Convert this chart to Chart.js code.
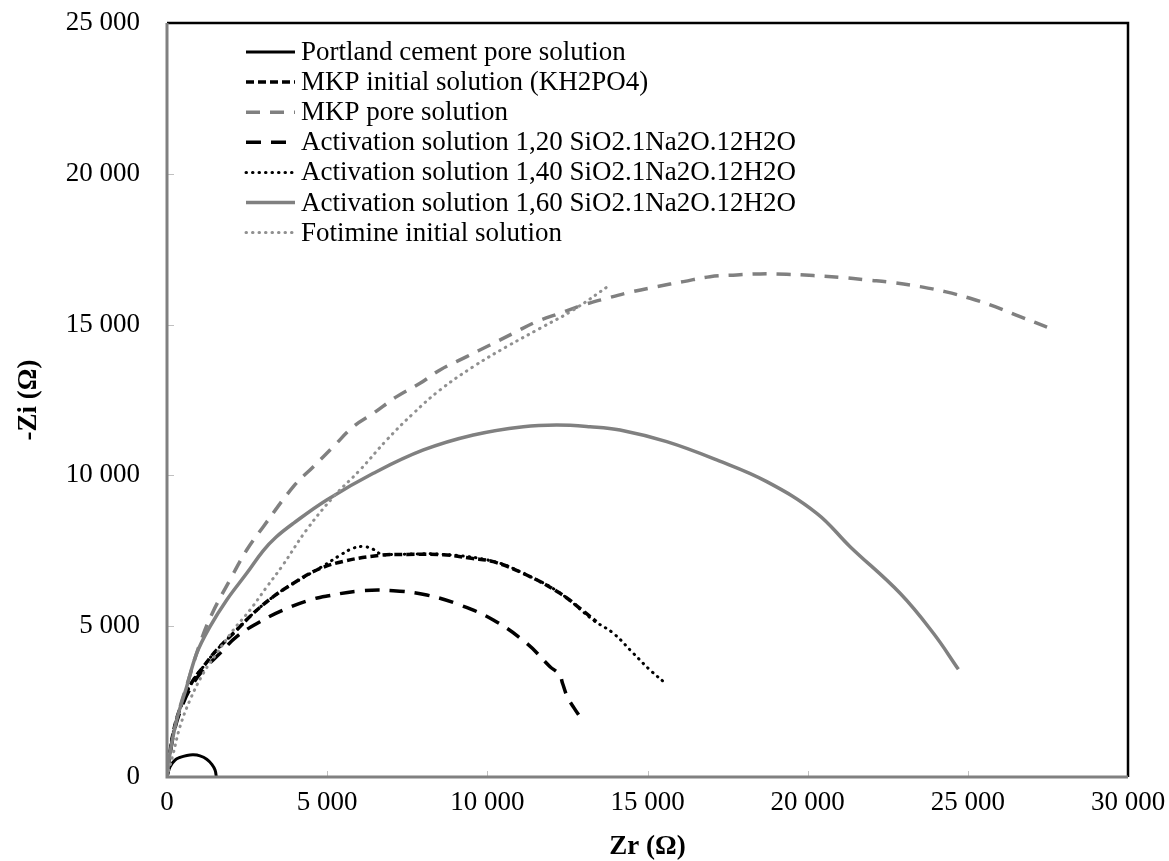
<!DOCTYPE html>
<html lang="en">
<head>
    <meta charset="UTF-8">
    <title>Impedance spectra</title>
    <script src="https://cdn.jsdelivr.net/npm/chart.js"></script>
    <style>
        html, body { margin: 0; padding: 0; background: #fff; }
        #wrap { width: 1169px; height: 861px; }
    </style>
</head>
<body>
<div id="wrap"><canvas id="nyquist" width="1169" height="861"></canvas></div>
<script>
// Series names, in legend order
const seriesNames = [
    'Portland cement pore solution',
    'MKP initial solution (KH2PO4)',
    'MKP pore solution',
    'Activation solution 1,20 SiO2.1Na2O.12H2O',
    'Activation solution 1,40 SiO2.1Na2O.12H2O',
    'Activation solution 1,60 SiO2.1Na2O.12H2O',
    'Fotimine initial solution'
];

// Zr and -Zi values (ohm)
const portlandZr = [0, 94, 250, 406, 620, 821, 1030, 1240, 1400, 1500, 1540];
const portlandZi = [0, 340, 560, 650, 715, 735, 700, 590, 420, 230, 0];

const mkpInitZr = [0, 200, 509, 821, 1134, 1552, 2175, 2694, 3319, 3944, 4674, 5500, 6650, 7500, 8626, 9500, 10187, 11228, 12269, 13000, 13400];
const mkpInitZi = [0, 1500, 2553, 3216, 3658, 4211, 4874, 5427, 5979, 6421, 6864, 7150, 7350, 7380, 7370, 7250, 7140, 6698, 6090, 5500, 5150];

const mkpPoreZr = [0, 150, 350, 650, 1030, 1400, 2000, 2488, 3007, 3944, 4568, 5193, 5818, 6441, 7171, 7899, 8523, 9356, 10084, 10811, 11540, 12269, 12997, 13727, 14455, 15288, 16120, 16952, 17785, 18513, 19346, 20179, 21011, 21844, 22676, 23510, 24289, 25070, 25851, 26631, 27567];
const mkpPoreZi = [0, 1100, 2100, 3150, 4430, 5400, 6600, 7527, 8300, 9626, 10290, 10953, 11616, 12058, 12612, 13054, 13496, 13939, 14325, 14713, 15100, 15376, 15652, 15872, 16073, 16259, 16425, 16590, 16646, 16680, 16669, 16624, 16569, 16481, 16392, 16259, 16093, 15872, 15595, 15264, 14877];

const act120Zr = [0, 200, 509, 821, 1134, 1655, 2175, 2903, 3631, 4465, 5000, 6025, 7065, 8108, 9147, 10187, 11228, 11957, 12250, 12350, 12500, 12700, 12920];
const act120Zi = [0, 1400, 2450, 3100, 3550, 4100, 4653, 5150, 5538, 5869, 6000, 6168, 6178, 6035, 5704, 5206, 4433, 3658, 3400, 3100, 2650, 2300, 1950];

const act140Zr = [0, 200, 509, 821, 1134, 1552, 2175, 2694, 3319, 3944, 4880, 5400, 5800, 6130, 6440, 6700, 7065, 8626, 10187, 11228, 12269, 13310, 13934, 14558, 15079, 15560];
const act140Zi = [0, 1500, 2553, 3216, 3658, 4211, 4874, 5427, 5979, 6421, 7000, 7350, 7580, 7640, 7550, 7380, 7380, 7380, 7150, 6700, 6100, 5200, 4765, 4101, 3548, 3107];

const act160Zr = [0, 94, 302, 615, 927, 1342, 1864, 2488, 3000, 3400, 3944, 4986, 6441, 8005, 9563, 11124, 12166, 13206, 14143, 15600, 17161, 18722, 20284, 21325, 22885, 23925, 24705];
const act160Zi = [0, 785, 1890, 2994, 4100, 4984, 5869, 6753, 7500, 7950, 8410, 9185, 10070, 10843, 11341, 11616, 11672, 11616, 11506, 11118, 10512, 9793, 8744, 7637, 6091, 4765, 3572];

const fotimineZr = [0, 197, 406, 718, 1134, 1552, 2071, 2591, 3113, 3600, 4361, 5193, 6025, 6859, 7690, 8523, 9563, 10605, 11645, 12685, 13831];
const fotimineZi = [0, 785, 1668, 2553, 3439, 4100, 4874, 5538, 6300, 7000, 8200, 9285, 10180, 11175, 12058, 12833, 13606, 14270, 14877, 15486, 16315];

// axis ticks
const xTicks = [0, 5000, 10000, 15000, 20000, 25000, 30000];
const yTicks = [0, 5000, 10000, 15000, 20000, 25000];

function toPoints(xs, ys) {
    return xs.map((x, i) => ({ x: x, y: ys[i] }));
}

function fmt(v) {
    return String(v).replace(/\B(?=(\d{3})+(?!\d))/g, ' ');
}

const GREY = '#808080';
const serif = '"Liberation Serif", "Times New Roman", serif';

const styles = [
    { color: '#000', width: 3, dash: [], cap: 'butt' },
    { color: '#000', width: 3.5, dash: [8, 4], cap: 'butt' },
    { color: GREY, width: 3.5, dash: [14, 10], cap: 'butt' },
    { color: '#000', width: 3.5, dash: [15, 10], cap: 'butt' },
    { color: '#000', width: 3, dash: [0.5, 6], cap: 'round' },
    { color: GREY, width: 3.5, dash: [], cap: 'butt' },
    { color: '#909090', width: 3, dash: [0.5, 6], cap: 'round' }
];

const seriesData = [
    toPoints(portlandZr, portlandZi),
    toPoints(mkpInitZr, mkpInitZi),
    toPoints(mkpPoreZr, mkpPoreZi),
    toPoints(act120Zr, act120Zi),
    toPoints(act140Zr, act140Zi),
    toPoints(act160Zr, act160Zi),
    toPoints(fotimineZr, fotimineZi)
];

const datasets = seriesNames.map((name, i) => ({
    label: name,
    data: seriesData[i],
    showLine: true,
    fill: false,
    borderColor: styles[i].color,
    borderWidth: styles[i].width,
    borderDash: styles[i].dash,
    borderCapStyle: styles[i].cap,
    pointRadius: 0,
    pointHoverRadius: 0,
    tension: 0.4,
    order: seriesNames.length - i // later series on top, like the original
}));

// frame, inward tick marks and the legend box
const framePlugin = {
    id: 'frame',
    afterDatasetsDraw(chart) {
        const { ctx, chartArea: a, scales } = chart;
        ctx.save();
        // small inward ticks
        ctx.strokeStyle = '#c0c0c0';
        ctx.lineWidth = 1;
        xTicks.slice(1, -1).forEach(v => {
            const x = Math.round(scales.x.getPixelForValue(v)) + 0.5;
            ctx.beginPath();
            ctx.moveTo(x, a.bottom);
            ctx.lineTo(x, a.bottom - 6);
            ctx.stroke();
        });
        yTicks.slice(1, -1).forEach(v => {
            const y = Math.round(scales.y.getPixelForValue(v)) + 0.5;
            ctx.beginPath();
            ctx.moveTo(a.left, y);
            ctx.lineTo(a.left + 7, y);
            ctx.stroke();
        });
        // black top and right
        ctx.strokeStyle = '#000';
        ctx.lineWidth = 2.5;
        ctx.beginPath();
        ctx.moveTo(a.left, a.top);
        ctx.lineTo(a.right, a.top);
        ctx.lineTo(a.right, a.bottom);
        ctx.stroke();
        // grey axes on left and bottom
        ctx.strokeStyle = GREY;
        ctx.lineWidth = 3;
        ctx.beginPath();
        ctx.moveTo(a.left, a.top);
        ctx.lineTo(a.left, a.bottom);
        ctx.lineTo(a.right, a.bottom);
        ctx.stroke();
        ctx.restore();
    },
    afterDraw(chart) {
        const { ctx, chartArea: a } = chart;
        ctx.save();
        ctx.font = '27px ' + serif;
        ctx.textBaseline = 'middle';
        ctx.fillStyle = '#000';
        chart.data.datasets.forEach((ds, i) => {
            const y = a.top + 29 + i * 30.1;
            ctx.strokeStyle = ds.borderColor;
            ctx.lineWidth = ds.borderWidth;
            ctx.lineCap = ds.borderCapStyle;
            ctx.setLineDash(ds.borderDash);
            ctx.beginPath();
            ctx.moveTo(a.left + 79, y);
            ctx.lineTo(a.left + 128, y);
            ctx.stroke();
            ctx.setLineDash([]);
            ctx.fillText(ds.label, a.left + 134, y + 1);
        });
        ctx.restore();
    }
};

const ctx = document.getElementById('nyquist').getContext('2d');
const chart = new Chart(ctx, {
    type: 'scatter',
    data: { datasets: datasets },
    options: {
        responsive: false,
        animation: false,
        devicePixelRatio: 1,
        layout: { padding: { top: 23, right: 41, left: 0, bottom: 0 } },
        plugins: {
            legend: { display: false },
            tooltip: { enabled: false }
        },
        scales: {
            x: {
                type: 'linear',
                min: 0,
                max: 30000,
                afterFit: s => { s.height = 84; s.paddingLeft = 0; s.paddingRight = 0; },
                afterBuildTicks: s => { s.ticks = xTicks.map(v => ({ value: v })); },
                grid: { display: false, drawTicks: false },
                border: { display: false },
                ticks: {
                    padding: 10,
                    color: '#000',
                    font: { family: serif, size: 27 },
                    maxRotation: 0,
                    callback: v => fmt(v)
                },
                title: {
                    display: true,
                    text: 'Zr (Ω)',
                    color: '#000',
                    font: { family: serif, size: 27, weight: 'bold', lineHeight: 1 },
                    padding: { top: 0, bottom: 0 }
                }
            },
            y: {
                type: 'linear',
                min: 0,
                max: 25000,
                afterFit: s => { s.width = 167; s.paddingTop = 0; s.paddingBottom = 0; },
                afterBuildTicks: s => { s.ticks = yTicks.map(v => ({ value: v })); },
                grid: { display: false, drawTicks: false },
                border: { display: false },
                ticks: {
                    padding: 27,
                    color: '#000',
                    font: { family: serif, size: 27 },
                    callback: v => fmt(v)
                },
                title: {
                    display: true,
                    text: '-Zi (Ω)',
                    color: '#000',
                    font: { family: serif, size: 27, weight: 'bold' },
                    padding: { top: 13, bottom: 0 }
                }
            }
        }
    },
    plugins: [framePlugin]
});
</script>
</body>
</html>
